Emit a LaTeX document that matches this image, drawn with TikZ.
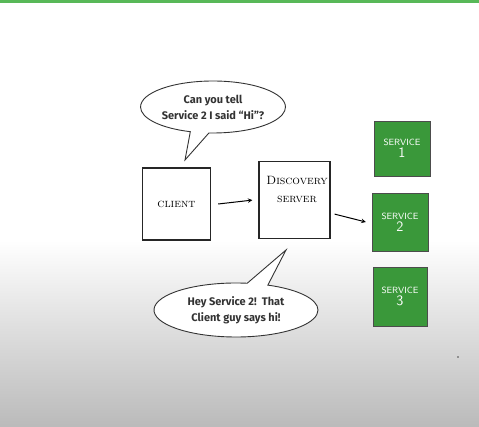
\documentclass[tikz,border=0pt]{standalone}
\usepackage{fontspec}
\newfontfamily\bubblefont{Fira Sans}
\usetikzlibrary{shapes.callouts}
\definecolor{topbar}{RGB}{88,184,88}
\definecolor{svcgreen}{RGB}{58,152,58}
\tikzset{
  sketchbox/.style={draw=black!85, line width=1.2pt, minimum width=68pt, minimum height=72pt, align=center, font=\scshape\large},
  svcbox/.style={draw=black!70, fill=svcgreen, minimum width=56pt, minimum height=55pt, align=center, text=white, font=\sffamily\small, inner sep=2pt},
  bubble/.style={ellipse callout, draw=black!80, line width=0.9pt, fill=white, align=center, inner sep=0pt, font=\bubblefont\bfseries\fontsize{11}{16}\selectfont, text=black!80},
}
\begin{document}
\begin{tikzpicture}[x=1pt, y=-1pt, >=stealth]
    \useasboundingbox (0,0) rectangle (479,427);
    % --- nền ---
    \fill[white] (0,0) rectangle (479,427);
    \shade[top color=white, bottom color=black!27] (0,240) rectangle (479,427);
    \fill[topbar] (0,0) rectangle (479,3.5);

    % --- các hộp ---
    \node[sketchbox] (client) at (176.5,204) {client};
    \node[sketchbox, minimum width=71pt, minimum height=77pt, anchor=north] (server) at (294.5,161) {};
    \node[font=\scshape\large, align=center] (serverlbl) at (297,189) {Discovery\\[4pt]server};

    \node[svcbox] (svcone) at (402,148.5) {SERVICE\\[1pt]{\Large 1}};
    \node[svcbox, minimum height=58pt] (svctwo) at (400,222) {SERVICE\\[1pt]{\Large 2}};
    \node[svcbox, minimum width=54pt, minimum height=59pt] (svcthree) at (400,296.5) {SERVICE\\[1pt]{\Large 3}};

    % --- mũi tên ---
    \draw[->, line width=1pt] ([xshift=7pt]client.east) -- ([xshift=-6pt]server.west);
    \draw[->, line width=1pt] ([xshift=4pt,yshift=-14pt]server.east) -- ([xshift=-6pt]svctwo.west);

    % --- bong bóng lời thoại ---
    \coordinate (tipone) at (185,160);
    \node[bubble, minimum width=137pt, minimum height=52pt, callout absolute pointer={(tipone)}] (askbubble) at (213,107)
        {Can you tell\\Service 2 I said “Hi”?};

    \coordinate (tiptwo) at (286,250);
    \node[bubble, minimum width=164pt, minimum height=54pt, callout absolute pointer={(tiptwo)}] (replybubble) at (236,310)
        {Hey Service 2!\ \ That\\Client guy says hi!};

    \fill[black!70] (458,357) circle (0.9pt);
\end{tikzpicture}
\end{document}
